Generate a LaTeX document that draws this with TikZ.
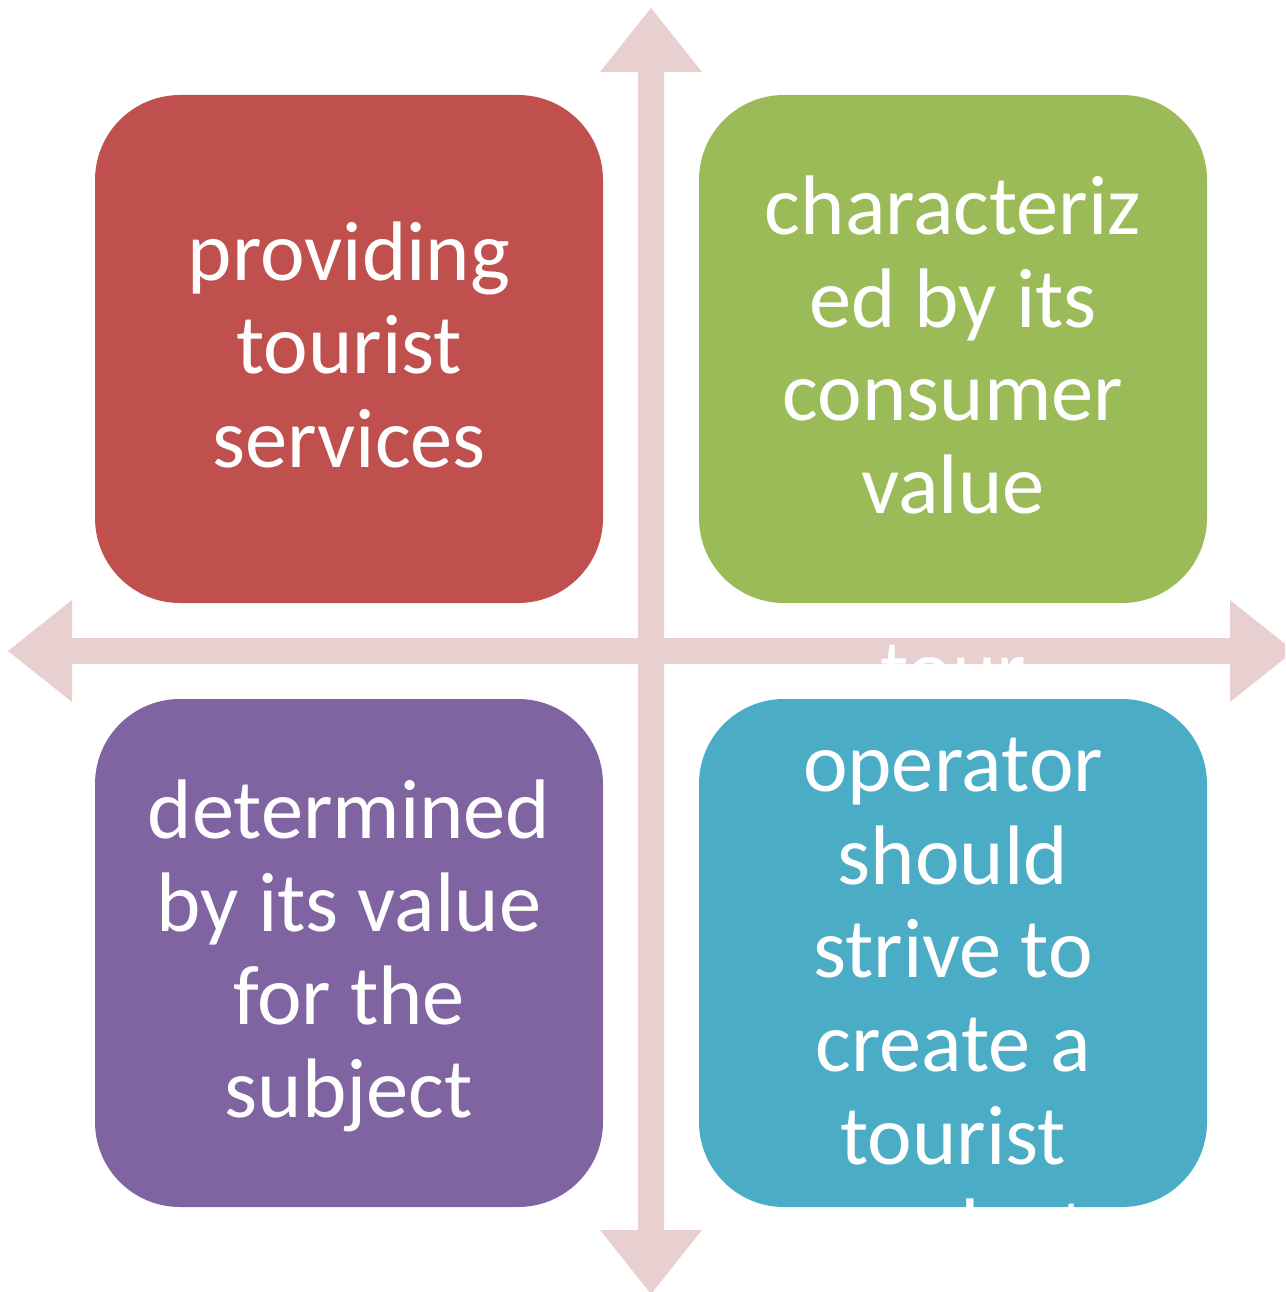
\documentclass[tikz,border=0pt]{standalone}
\usepackage{fontspec}
\setmainfont{Carlito}
\definecolor{arrowpink}{HTML}{E8D0D1}
\definecolor{qred}{HTML}{C0504D}
\definecolor{qgreen}{HTML}{9BBB59}
\definecolor{qpurple}{HTML}{8064A2}
\definecolor{qblue}{HTML}{4BACC6}
\begin{document}
\begin{tikzpicture}[x=1pt,y=-1pt,
  quad/.style={rectangle, rounded corners=85pt, minimum width=508pt, minimum height=508pt, inner sep=0pt, draw=none},
  quadtext/.style={text=white, align=center, inner sep=0pt, font=\fontsize{84.5}{93.3}\selectfont},
  axis/.style={fill=arrowpink, draw=none}]
\clip (0,0) rectangle (1285,1292);
% vertical double arrow
\fill[axis] (651,8) -- (702,72) -- (664,72) -- (664,1230) -- (702,1230) -- (651,1294)
  -- (600,1230) -- (638,1230) -- (638,72) -- (600,72) -- cycle;
% horizontal double arrow
\fill[axis] (8,651) -- (72,600) -- (72,638) -- (1230,638) -- (1230,600) -- (1294,651)
  -- (1230,702) -- (1230,664) -- (72,664) -- (72,702) -- cycle;
% quadrants
\node[quad, fill=qred]    (red)    at (349,349) {};
\node[quad, fill=qgreen]  (green)  at (953,349) {};
\node[quad, fill=qpurple] (purple) at (349,953) {};
\node[quad, fill=qblue]   (blue)   at (953,953) {};
% texts
\node[quadtext] (redtext) at ([yshift=-6.3pt]red.center) {\strut providing\\tourist\\services\strut};
\node[quadtext] (greentext) at ([yshift=-6.3pt]green.center) {\strut characteriz\\ed by its\\consumer\\value\strut};
\node[quadtext] (purpletext) at ([yshift=-6.3pt]purple.center) {\strut determined\\by its value\\for the\\subject\strut};
\node[quadtext] (bluetext) at ([yshift=-6.3pt]blue.center) {\strut tour\\operator\\should\\strive to\\create a\\tourist\\product\strut};
\end{tikzpicture}
\end{document}
